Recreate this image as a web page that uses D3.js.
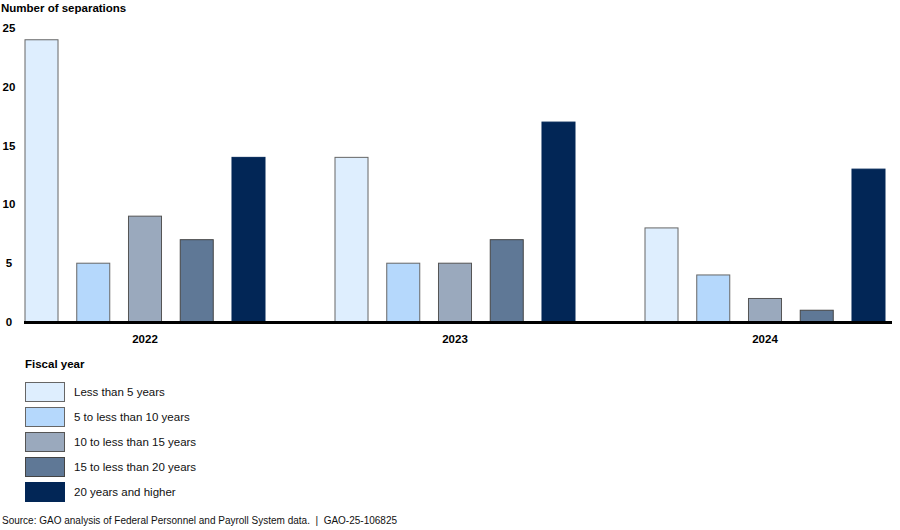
<!DOCTYPE html>
<html>
<head>
<meta charset="utf-8">
<script src="https://cdn.jsdelivr.net/npm/d3@7"></script>
<style>
  body { margin: 0; background: #fff; }
  text { font-family: Arial, "Liberation Sans", sans-serif; }
</style>
</head>
<body>
<main></main>
<script>
var years = ["2022", "2023", "2024"];
var groups = ["Less than 5 years", "5 to less than 10 years", "10 to less than 15 years",
              "15 to less than 20 years", "20 years and higher"];
var values2022 = [24, 5, 9, 7, 14];
var values2023 = [14, 5, 5, 7, 17];
var values2024 = [8, 4, 2, 1, 13];
var yTicks = [0, 5, 10, 15, 20, 25];
var colors = ["#deeefe", "#b5d8fc", "#9aa9bd", "#5f7896", "#022656"];
var strokes = ["#666", "#666", "#555", "#444", "#022656"];

var allValues = [values2022, values2023, values2024];
var rows = [];
years.forEach(function (y, i) {
    groups.forEach(function (g, j) {
        rows.push({year: y, group: g, idx: j, value: allValues[i][j]});
    });
});

var svg = d3.select("main")
    .append("svg")
    .attr("width", 900)
    .attr("height", 530);

var x0 = d3.scaleBand().domain(years).range([25, 885]).paddingInner(70 / 310).paddingOuter(0);
var x1 = d3.scaleBand().domain(groups).range([0, x0.bandwidth()]).paddingInner(0.362).paddingOuter(0);
var y = d3.scaleLinear().domain([0, 25]).range([322, 28]);

// y title
svg.append("text")
    .attr("x", 1).attr("y", 12)
    .attr("font-size", 11.5).attr("font-weight", "bold")
    .text("Number of separations");

// y tick labels
svg.selectAll(".ytick").data(yTicks).enter()
    .append("text")
    .attr("class", "ytick")
    .attr("x", 9).attr("y", function (d) { return y(d) + 4; })
    .attr("text-anchor", "middle")
    .attr("font-size", 11.5).attr("font-weight", "bold")
    .text(function (d) { return d; });

// bars
svg.selectAll("rect.bar").data(rows).enter()
    .append("rect")
    .attr("class", "bar")
    .attr("x", function (d) { return x0(d.year) + x1(d.group); })
    .attr("y", function (d) { return y(d.value); })
    .attr("width", x1.bandwidth())
    .attr("height", function (d) { return y(0) - y(d.value); })
    .attr("fill", function (d) { return colors[d.idx]; })
    .attr("stroke", function (d) { return strokes[d.idx]; })
    .attr("stroke-width", 1);

// baseline
svg.append("line")
    .attr("x1", 24).attr("x2", 892)
    .attr("y1", y(0) + 0.5).attr("y2", y(0) + 0.5)
    .attr("stroke", "#000").attr("stroke-width", 3);

// x labels
svg.selectAll(".xlab").data(years).enter()
    .append("text")
    .attr("x", function (d) { return x0(d) + x0.bandwidth() / 2; })
    .attr("y", 343)
    .attr("text-anchor", "middle")
    .attr("font-size", 11.5).attr("font-weight", "bold")
    .text(function (d) { return d; });

svg.append("text")
    .attr("x", 25).attr("y", 368)
    .attr("font-size", 11.5).attr("font-weight", "bold")
    .text("Fiscal year");

// legend
var legend = svg.selectAll(".leg").data(groups).enter()
    .append("g")
    .attr("transform", function (d, i) { return "translate(25," + (382 + i * 25) + ")"; });

legend.append("rect")
    .attr("x", 0.5).attr("y", 0.5)
    .attr("width", 39).attr("height", 19)
    .attr("fill", function (d, i) { return colors[i]; })
    .attr("stroke", function (d, i) { return strokes[i]; });

legend.append("text")
    .attr("x", 49).attr("y", 14)
    .attr("font-size", 11.5)
    .attr("fill", "#111")
    .text(function (d) { return d; });

svg.append("text")
    .attr("x", 2).attr("y", 524)
    .attr("font-size", 10)
    .attr("fill", "#111")
    .attr("xml:space", "preserve")
    .style("white-space", "pre")
    .text("Source: GAO analysis of Federal Personnel and Payroll System data.  |  GAO-25-106825");
</script>
</body>
</html>
